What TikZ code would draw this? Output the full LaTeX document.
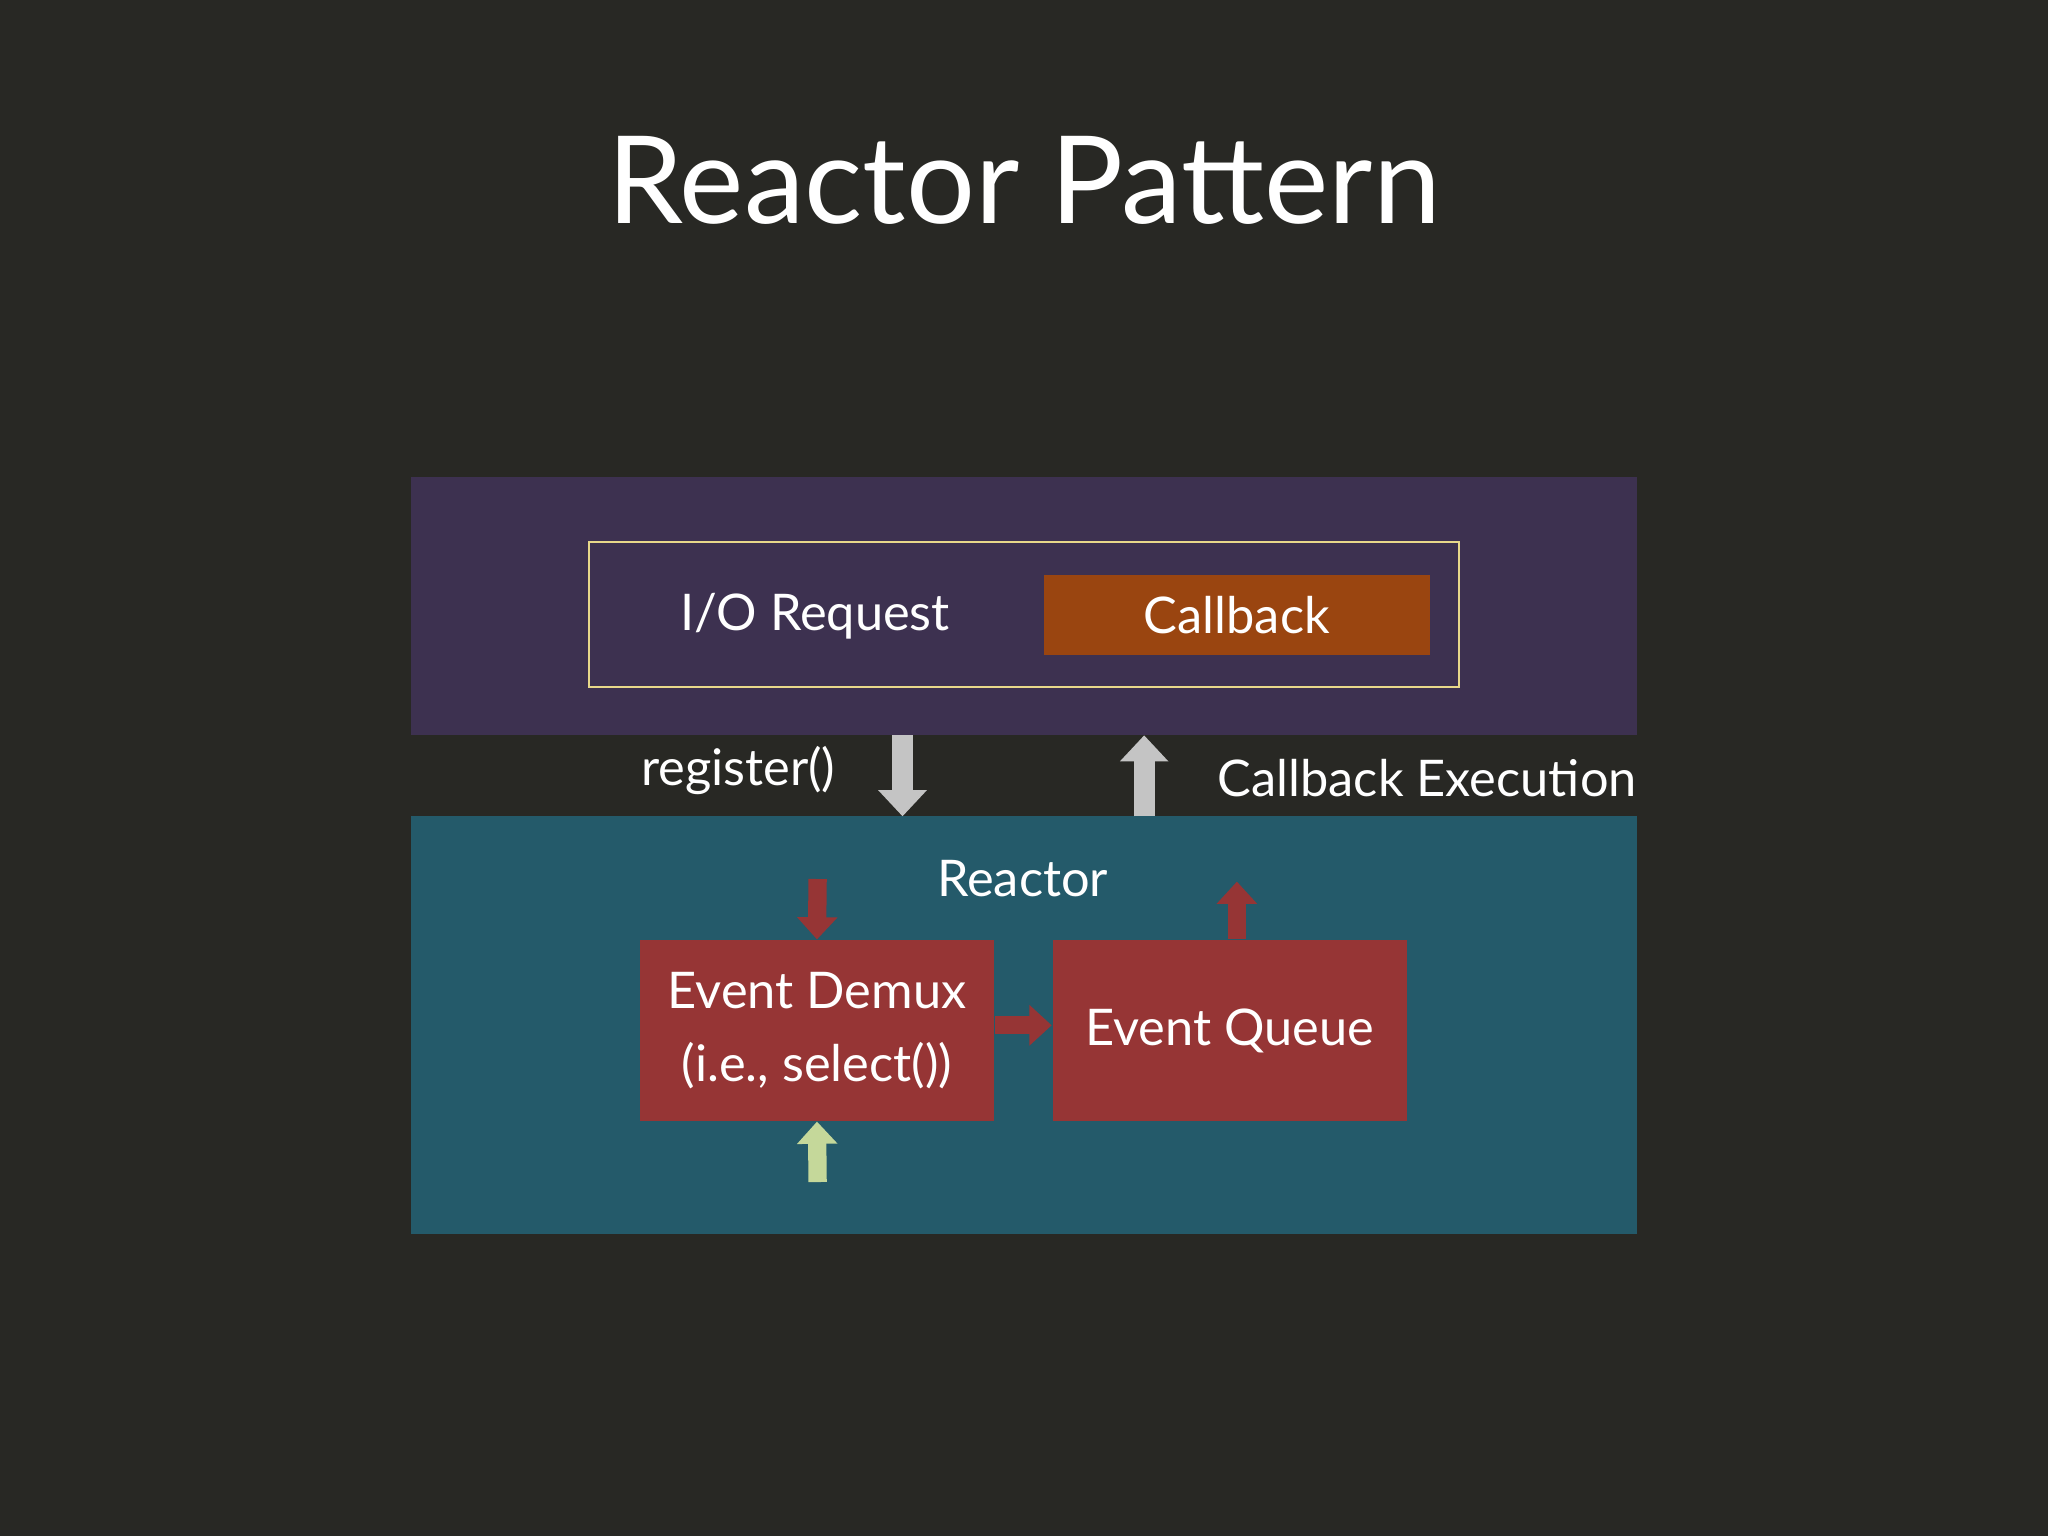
\documentclass[tikz,border=0pt]{standalone}
\usepackage{fontspec}
\setmainfont{Lato}
\usetikzlibrary{arrows.meta}
\definecolor{bg}{HTML}{282824}
\definecolor{purp}{HTML}{3D3150}
\definecolor{teal}{HTML}{245A6A}
\definecolor{orng}{HTML}{9A4510}
\definecolor{rred}{HTML}{963535}
\definecolor{yel}{HTML}{E8D88A}
\definecolor{gry}{HTML}{C4C4C4}
\definecolor{grn}{HTML}{C5D89A}
\begin{document}
\begin{tikzpicture}[x=0.01cm,y=-0.01cm,
  txt/.style={text=white,font=\fontsize{11}{16}\selectfont,align=center},
  blk/.style={line width=0.16cm,-{Triangle[width=0.36cm,length=0.2cm]}},
  blks/.style={line width=0.14cm,-{Triangle[width=0.3cm,length=0.17cm]}}]
\fill[bg] (0,0) rectangle (1568,1176);
\node[text=white,font=\fontsize{26.5}{30}\selectfont] (title) at (784,138) {Reactor Pattern};
\fill[purp] (315,365) rectangle (1253,563);
\fill[teal] (315,625) rectangle (1253,945);
\draw[yel,line width=0.02cm] (451,415) rectangle (1117,526);
\node[txt] (io) at (624,472) {I/O Request};
\node[fill=orng,minimum width=2.95cm,minimum height=0.61cm,inner sep=0,txt] (cb) at (947,471) {Callback};
\node[txt] (reactor) at (783,673) {Reactor};
\node[fill=rred,minimum width=2.71cm,minimum height=1.38cm,txt,inner sep=0] (dmx) at (625.5,789) {Event Demux\\(i.e., select())};
\node[fill=rred,minimum width=2.71cm,minimum height=1.38cm,txt,inner sep=0] (que) at (941.5,789) {Event Queue};
\node[txt,anchor=east] (reg) at (652,590) {register()};
\node[txt,anchor=west] (cbe) at (920,596) {Callback Execution};
\coordinate (a1) at (691,563); \coordinate (a2) at (691,625);
\coordinate (b1) at (876,625); \coordinate (b2) at (876,563);
\draw[blk,gry] (a1) -- (a2);
\draw[blk,gry] (b1) -- (b2);
\coordinate (r1) at (626,673);
\draw[blks,rred] (r1) -- (dmx.north);
\coordinate (r2) at (947,675);
\draw[blks,rred] (que.north -| r2) -- (r2);
\draw[blks,rred] (dmx.east |- 0,785) -- (que.west |- 0,785);
\coordinate (g1) at (626,905);
\draw[blks,grn] (g1) -- (dmx.south);
\end{tikzpicture}
\end{document}
